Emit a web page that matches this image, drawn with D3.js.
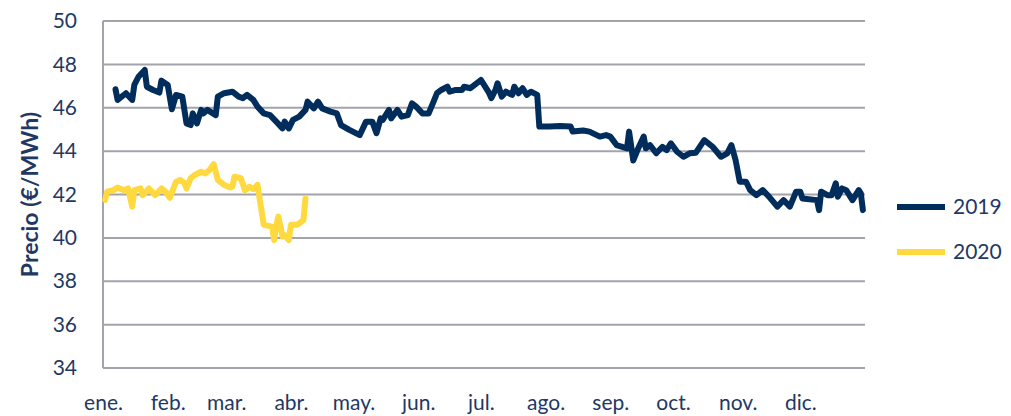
<!DOCTYPE html>
<html>
<head>
<meta charset="utf-8">
<script src="https://cdn.jsdelivr.net/npm/d3@7"></script>
<style>
  body { margin: 0; background: #fff; }
  text { font-family: Lato, 'Open Sans', sans-serif; fill: #1f3864; }
</style>
</head>
<body>
<div id="chart"></div>
<script>
// months and where they start (day of year)
const months = ['ene.', 'feb.', 'mar.', 'abr.', 'may.', 'jun.', 'jul.', 'ago.', 'sep.', 'oct.', 'nov.', 'dic.']
const monthStart = [0, 31, 59, 90, 120, 151, 181, 212, 243, 273, 304, 334]
const yTicks = [34, 36, 38, 40, 42, 44, 46, 48, 50]

// 2019 series: day of year / price
const days2019 = [6, 7, 11, 14, 15, 17, 20, 21, 24, 27, 28, 31, 33, 35, 38, 40, 42, 43, 45, 47, 48, 50, 54, 55, 58, 62, 65, 67, 69, 72,
  74, 77, 80, 83, 86, 87, 89, 91, 94, 97, 98, 101, 103, 105, 109, 112, 114, 118, 123, 126, 129, 131, 133, 134, 137, 138, 141, 143, 146,
  148, 150, 153, 156, 158, 160, 162, 165, 166, 169, 172, 173, 176, 178, 181, 182, 185, 186, 188, 189, 191, 193, 196, 197, 199, 201,
  203, 205, 208, 209, 214, 219, 224, 225, 230, 233, 238, 241, 243, 246, 251, 252, 254, 256, 259, 260, 262, 265, 268, 270, 272, 275,
  278, 281, 284, 288, 292, 296, 299, 301, 303, 305, 308, 310, 313, 316, 319, 323, 326, 329, 332, 334, 335, 342, 343, 344, 347, 349,
  351, 352, 354, 356, 359, 362, 363, 364]
const price2019 = [46.85, 46.36, 46.67, 46.36, 47.05, 47.43, 47.74, 46.97, 46.82, 46.7, 47.25, 47.05, 45.93, 46.59, 46.51, 45.28, 45.2,
  45.74, 45.28, 45.9, 45.74, 45.9, 45.66, 46.51, 46.67, 46.74, 46.51, 46.44, 46.59, 46.36,
  46.05, 45.74, 45.66, 45.36, 45.05, 45.36, 45.05, 45.44, 45.59, 45.9, 46.28, 45.97, 46.28, 45.97, 45.82, 45.74, 45.2, 44.98, 44.74,
  45.36, 45.36, 44.83, 45.51, 45.44, 45.9, 45.51, 45.9, 45.59, 45.66,
  46.2, 46.05, 45.74, 45.74, 46.2, 46.67, 46.82, 46.97, 46.74, 46.82, 46.82, 46.97, 46.9, 47.05, 47.28, 47.13, 46.67, 46.44, 46.82,
  47.13, 46.51, 46.74, 46.59, 46.97, 46.67, 46.9,
  46.59, 46.74, 46.59, 45.13, 45.13, 45.16, 45.13, 44.9, 44.95, 44.9, 44.67, 44.74, 44.67, 44.28, 44.13, 44.9, 43.57, 44.05, 44.67,
  44.13, 44.28, 43.9, 44.2, 44.05, 44.36, 43.97,
  43.74, 43.9, 43.93, 44.51, 44.2, 43.74, 43.9, 44.28, 43.59, 42.59, 42.59, 42.2, 41.97, 42.2, 41.9, 41.44, 41.74, 41.44, 42.13, 42.13,
  41.82, 41.74, 41.28, 42.13, 41.97, 41.97,
  42.52, 41.9, 42.28, 42.2, 41.74, 42.2, 42.05, 41.28]

// 2020 series
const days2020 = [1, 2, 5, 7, 10, 12, 14, 15, 18, 19, 22, 25, 28, 30, 32, 35, 37, 39, 40, 42, 44, 47, 49, 51, 53, 55, 58, 61, 62, 63,
  66, 68, 70, 72, 74, 77, 81, 82, 83, 84, 86, 87, 89, 90, 93, 96, 97]
const price2020 = [41.75, 42.13, 42.2, 42.32, 42.2, 42.28, 41.44, 42.2, 42.28, 41.97, 42.28, 41.97, 42.28, 42.13, 41.85, 42.59, 42.67,
  42.52, 42.28, 42.75, 42.9, 43.05, 42.97, 43.13, 43.4, 42.67, 42.44, 42.32, 42.36, 42.82,
  42.75, 42.2, 42.36, 42.25, 42.44, 40.6, 40.52, 39.9, 40.6, 40.98, 40.06, 40.13, 39.9, 40.6, 40.6, 40.82, 41.82]

const seriesNames = ['2019', '2020']
const colors = ['#002d5c', '#ffd93d']

const width = 1011,
  height = 416
const plotLeft = 103, plotRight = 865, plotTop = 21, plotBottom = 368

const svg = d3.select('#chart')
  .append('svg')
  .attr('width', width)
  .attr('height', height)

const x = d3.scaleLinear().domain([0, 365]).range([plotLeft, plotRight])
const y = d3.scaleLinear().domain([34, 50]).range([plotBottom, plotTop])

// gridlines
svg.append('g')
  .selectAll('line')
  .data(yTicks)
  .enter()
  .append('line')
  .attr('x1', plotLeft)
  .attr('x2', plotRight)
  .attr('y1', d => y(d))
  .attr('y2', d => y(d))
  .attr('stroke', '#a3a3ab')
  .attr('stroke-width', 2)

// left axis line
svg.append('line')
  .attr('x1', plotLeft).attr('x2', plotLeft)
  .attr('y1', plotTop).attr('y2', plotBottom)
  .attr('stroke', '#a3a3ab')
  .attr('stroke-width', 2)

// y labels
const yAxis = svg.append('g')
  .attr('transform', `translate(${plotLeft - 26}, 0)`)
  .call(d3.axisLeft(y).tickValues(yTicks).tickSize(0).tickPadding(0))
yAxis.select('.domain').remove()
yAxis.selectAll('text')
  .style('font-size', '21px')
  .style('font-family', 'Lato, sans-serif')
  .attr('fill', '#1f3864')

// x labels
const xAxis = svg.append('g')
  .attr('transform', `translate(0, ${plotBottom + 27})`)
  .call(d3.axisBottom(x).tickValues(monthStart).tickFormat((d, i) => months[i]).tickSize(0).tickPadding(0))
xAxis.select('.domain').remove()
xAxis.selectAll('text')
  .style('font-size', '21px')
  .style('font-family', 'Lato, sans-serif')
  .attr('fill', '#1f3864')

// axis title
svg.append('text')
  .attr('transform', `translate(38, ${(plotTop + plotBottom) / 2}) rotate(-90)`)
  .attr('text-anchor', 'middle')
  .style('font-size', '23px')
  .style('font-weight', 'bold')
  .text('Precio (€/MWh)')

const line = d3.line()
  .x(d => x(d[0]))
  .y(d => y(d[1]))

const series = [
  d3.zip(days2019, price2019),
  d3.zip(days2020, price2020)
]

svg.selectAll('path.serie')
  .data(series)
  .enter()
  .append('path')
  .attr('class', 'serie')
  .attr('d', line)
  .attr('fill', 'none')
  .attr('stroke', (d, i) => colors[i])
  .attr('stroke-width', 6)
  .attr('stroke-linejoin', 'round')
  .attr('stroke-linecap', 'round')

// legend
const legend = svg.selectAll('g.legend')
  .data(seriesNames)
  .enter()
  .append('g')
  .attr('class', 'legend')
  .attr('transform', (d, i) => `translate(897, ${207 + i * 45})`)
legend.append('line')
  .attr('x1', 0).attr('x2', 48)
  .attr('stroke', (d, i) => colors[i])
  .attr('stroke-width', 6)
legend.append('text')
  .attr('x', 56)
  .attr('dy', '0.35em')
  .style('font-size', '21px')
  .text(d => d)
</script>
</body>
</html>
